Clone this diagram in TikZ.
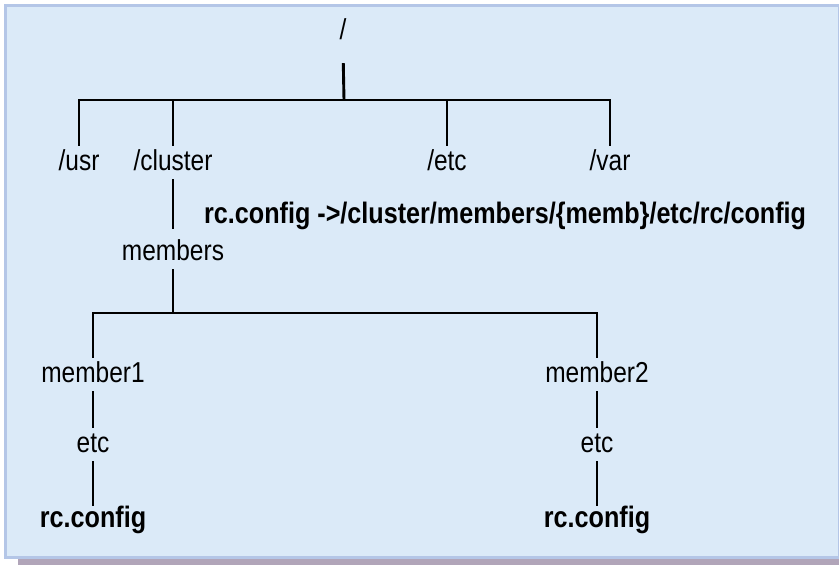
\documentclass[tikz,border=0pt]{standalone}
\usepackage{fontspec}
\setmainfont[FakeStretch=0.85]{Liberation Sans}
\usetikzlibrary{positioning}
\definecolor{panelfill}{RGB}{219,234,248}
\definecolor{panelline}{RGB}{180,198,231}
\definecolor{panelshadow}{RGB}{177,165,185}
\newcommand{\treefont}{\fontsize{28.8}{32}\selectfont}
\newcommand{\filefont}{\fontsize{29.6}{32}\selectfont\bfseries}
\tikzset{dir/.style={font=\treefont, inner xsep=0pt, inner ysep=3pt,
    text height=21pt, text depth=6pt, anchor=base}}
\tikzset{file/.style={dir, font=\filefont}}
\tikzset{branch/.style={line width=2.9pt}}

\begin{document}
\begin{tikzpicture}[x=1pt,y=-1pt]
  \useasboundingbox (0,0) rectangle (839,565);
  \fill[panelshadow] (18,559) rectangle (839,565);
  \draw[panelline, fill=panelfill, line width=3pt] (5.5,5.5) rectangle (839.5,557.5);

  % top level
  \node[dir] (root) at (343,39) {/};
  \node[dir] (usr) at (79,170) {/usr};
  \node[dir] (cluster) at (173,170) {/cluster};
  \node[dir] (etc) at (447,170) {/etc};
  \node[dir] (var) at (610,170) {/var};
  \coordinate (rootj) at (344,100);
  \draw[branch, shorten <=15pt] (root.south) -- (rootj);
  \draw[branch] (usr.north) |- (rootj) -| (var.north);
  \draw[branch] (cluster.north) -- (cluster.north |- rootj);
  \draw[branch] (etc.north) -- (etc.north |- rootj);

  \node[file, anchor=base west] (link) at (204,223)
    {rc.config ->/cluster/members/\{memb\}/etc/rc/config};

  % members
  \node[dir] (members) at (173,260) {members};
  \draw[branch, shorten >=7pt] (cluster.south) -- (members.north);
  \node[dir] (member1) at (93,382) {member1};
  \node[dir] (member2) at (597,382) {member2};
  \coordinate (memj) at (173,313);
  \draw[branch] (members.south) -- (memj);
  \draw[branch] (member1.north) |- (memj) -| (member2.north);

  % per member
  \node[dir] (etc1) at (93,452) {etc};
  \node[dir] (etc2) at (597,452) {etc};
  \node[file] (rc1) at (93,527) {rc.config};
  \node[file] (rc2) at (597,527) {rc.config};
  \draw[branch] (member1.south) -- (etc1.north);
  \draw[branch] (member2.south) -- (etc2.north);
  \draw[branch, shorten >=-3pt] (etc1.south) -- (rc1.north);
  \draw[branch, shorten >=-3pt] (etc2.south) -- (rc2.north);
\end{tikzpicture}
\end{document}
